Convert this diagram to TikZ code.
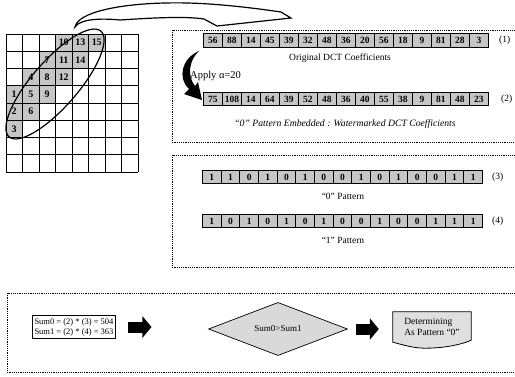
\documentclass[tikz,border=0pt]{standalone}
\usepackage{fontspec}
\setmainfont{Liberation Serif}
\usetikzlibrary{shapes.geometric,arrows.meta}
\begin{document}
\begin{tikzpicture}[x=1pt,y=-1pt,
  gcell/.style={fill=gray!45, minimum width=16.5pt, minimum height=17.25pt, inner sep=0pt, font=\fontsize{10}{10}\selectfont\bfseries},
  cell/.style={draw, line width=0.9pt, fill=gray!45, minimum width=19pt, minimum height=13.5pt, inner sep=0pt, anchor=west, font=\fontsize{9.5}{10}\selectfont\bfseries},
  pcell/.style={cell, minimum width=18.67pt},
  dbox/.style={draw, line width=0.6pt, dash pattern=on 1.2pt off 1pt},
  lbl/.style={font=\fontsize{9.5}{11}\selectfont, inner sep=0pt},
  fat/.style={line width=11pt, -{Triangle[width=21pt, length=9pt]}},
  plain/.style={font=\fontsize{8.5}{10}\selectfont}
]
\useasboundingbox (0,0) rectangle (515,376);

% dashed frames
\draw[dbox] (172,30) rectangle (520,142);
\draw[dbox] (172,155) rectangle (520,267);
\draw[dbox] (7,293) rectangle (520,372);

% 8x8 grid with shaded zig-zag cells
\foreach \c/\r/\n in {3/0/10,4/0/13,5/0/15,2/1/7,3/1/11,4/1/14,1/2/4,2/2/8,3/2/12,0/3/1,1/3/5,2/3/9,0/4/2,1/4/6,0/5/3}
  \node[gcell] (g\n) at ({6+16.5*(\c+0.5)},{34+17.25*(\r+0.5)}) {\n};
\foreach \i in {0,...,8} {
  \draw[line width=1pt] ({6+16.5*\i},34) -- ({6+16.5*\i},172);
  \draw[line width=1pt] (6,{34+17.25*\i}) -- (138,{34+17.25*\i});
}
% ellipse round the first 15 coefficients
\draw[line width=1.2pt, rotate around={49:(55,84)}] (55,84) ellipse [x radius=70, y radius=23];

% big hollow curved arrow
\draw[line width=1.2pt, fill=white] (75,27) .. controls (80,19) and (100,18) .. (120,20)
  .. controls (150,18) and (185,16) .. (204,19) -- (217,26) -- (291,18) -- (281,12)
  .. controls (240,6) and (200,2) .. (165,3) .. controls (120,4) and (78,12) .. cycle;

% row (1)
\foreach \v [count=\i] in {56,88,14,45,39,32,48,36,20,56,18,9,81,28,3}
  \node[cell] (a\i) at ({203+19*(\i-1)},40.5) {\v};
\node[lbl, anchor=west] (l1) at (499,40.5) {(1)};
\node[lbl] (t1) at (340,58) {Original DCT Coefficients};

% apply arrow
\fill (199,51) .. controls (182,58) and (177,78) .. (189,89) -- (184,94) -- (202,100)
  -- (198,82) -- (195,86) .. controls (187,76) and (189,60) .. cycle;
\node[lbl, anchor=west, font=\fontsize{10.5}{12}\selectfont] (ap) at (190,76) {Apply α=20};

% row (2)
\foreach \v [count=\i] in {75,108,14,64,39,52,48,36,40,55,38,9,81,48,23}
  \node[cell] (b\i) at ({203+19*(\i-1)},99) {\v};
\node[lbl, anchor=west] (l2) at (501,99) {(2)};
\node[lbl, font=\fontsize{9.7}{11}\selectfont\itshape] (t2) at (345,124) {“0” Pattern Embedded : Watermarked DCT Coefficients};

% row (3)
\foreach \v [count=\i] in {1,1,0,1,0,1,0,0,1,0,1,0,0,1,1}
  \node[pcell] (c\i) at ({202+18.67*(\i-1)},177) {\v};
\node[lbl, anchor=west] (l3) at (492,177) {(3)};
\node[lbl] (t3) at (343,196) {“0” Pattern};

% row (4)
\foreach \v [count=\i] in {1,0,1,0,1,0,1,0,0,1,0,0,1,1,1}
  \node[pcell] (d\i) at ({202+18.67*(\i-1)},221) {\v};
\node[lbl, anchor=west] (l4) at (492,221) {(4)};
\node[lbl] (t4) at (343,240) {“1” Pattern};

% decision row
\node[draw, line width=1pt, align=left, plain, inner sep=2.5pt] (sum) at (74,327)
  {Sum0 = (2) * (3) = 504\\Sum1 = (2) * (4) = 363};
\node[diamond, draw, line width=0.7pt, fill=gray!30, minimum width=139pt, minimum height=42pt, inner sep=0pt, font=\fontsize{9}{10}\selectfont] (dia) at (278,329) {Sum0>Sum1};
\node[minimum width=78pt, minimum height=32pt, inner sep=0pt] (det) at (432,328) {};
\draw[line width=0.8pt, fill=gray!25] ([yshift=2pt]det.south west) -- (det.north west) -- (det.north east) -- ([yshift=4pt]det.south east)
  .. controls +(-14,6) and +(14,0) .. ([xshift=32pt,yshift=-4pt]det.south west)
  .. controls +(-12,0) and +(8,2) .. ([yshift=2pt]det.south west) -- cycle;
\node[align=left, font=\fontsize{9.5}{11}\selectfont, inner sep=0pt] (dett) at ([yshift=1pt]det) {Determining\\As Pattern “0”};
\draw[fat] ([xshift=12pt]sum.east) -- ++(23,0);
\draw[fat] ([xshift=8pt]dia.east) -- ++(23,0);
\end{tikzpicture}
\end{document}
